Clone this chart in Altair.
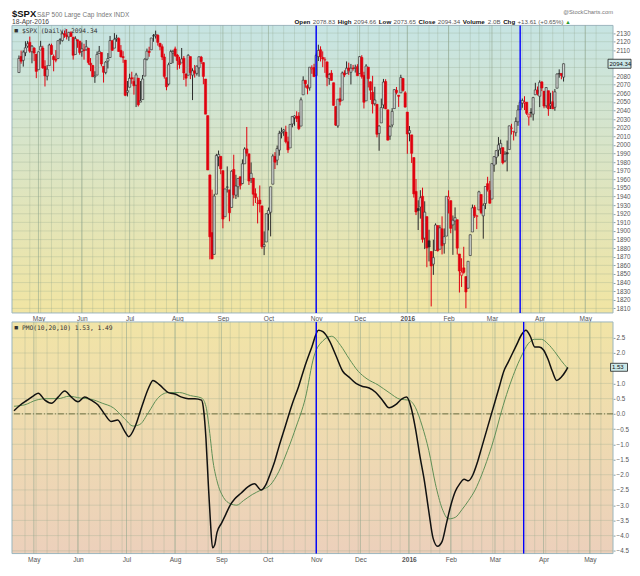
import json
import altair as alt
import pandas as pd

# ---------------- data ----------------
opens = [
    2084.11, 2102.82, 2098.27, 2107.21, 2114.76, 2119.29, 2108.35, 2112.49, 2105.52,
    2087.38, 2110.23, 2112.63, 2091.26, 2079.96, 2092.13, 2115.56, 2102.87, 2099.62, 2100.43,
    2122.07, 2121.30, 2129.45, 2127.79, 2125.55, 2130.36, 2125.34, 2105.13, 2122.27, 2120.66,
    2108.64, 2110.41, 2110.64, 2112.35, 2095.09, 2092.34, 2079.07, 2081.12, 2106.24, 2107.43, 2091.34,
    2084.26, 2097.40, 2101.58, 2121.06, 2112.50, 2123.16, 2123.65, 2109.96, 2102.62, 2098.63, 2061.19,
    2067.00, 2078.03, 2073.95, 2069.52, 2077.66, 2049.73, 2052.74, 2080.03, 2099.72, 2109.01, 2110.55,
    2126.80, 2126.85, 2127.55, 2118.21, 2114.16, 2102.24, 2078.19, 2070.75, 2094.70, 2106.78, 2111.60,
    2104.49, 2097.68, 2095.27, 2100.75, 2082.61, 2080.98, 2102.66, 2081.10, 2086.19, 2083.15, 2089.70,
    2101.99, 2095.69, 2076.61, 2034.08, 1965.15, 1898.08, 1872.75, 1942.77, 1986.06, 1986.73,
    1970.09, 1916.52, 1950.79, 1947.76, 1927.30, 1971.45, 1941.59, 1951.45, 1963.06, 1955.10, 1978.02,
    1995.33, 1989.66, 1960.84, 1961.39, 1943.24, 1932.24, 1935.93, 1929.18, 1881.90, 1887.14,
    1919.65, 1921.77, 1954.33, 1986.63, 1982.34, 1994.01, 2013.73, 2015.65, 2015.00, 2003.66, 1996.47,
    2024.37, 2031.73, 2033.13, 2033.47, 2021.88, 2058.19, 2075.08, 2068.75, 2066.48, 2088.35, 2090.00,
    2080.76, 2102.63, 2110.60, 2101.68, 2098.60, 2096.56, 2077.19, 2083.41, 2072.29, 2044.64,
    2022.08, 2053.67, 2051.99, 2083.70, 2082.82, 2089.41, 2084.42, 2089.30, 2088.82, 2090.95,
    2082.93, 2101.71, 2080.71, 2051.24, 2090.42, 2073.39, 2061.17, 2047.93, 2047.27, 2013.37, 2025.55,
    2046.50, 2073.76, 2040.81, 2010.27, 2023.15, 2042.20, 2063.52, 2057.77, 2060.54, 2077.34, 2060.59,
    2038.20, 2013.78, 2011.71, 1985.32, 1945.97, 1926.12, 1927.83, 1940.34, 1891.68, 1916.68,
    1888.66, 1876.18, 1861.46, 1877.40, 1906.28, 1878.79, 1902.52, 1885.22, 1894.00,
    1936.94, 1935.26, 1907.07, 1911.67, 1913.07, 1873.25, 1848.46, 1857.10, 1847.00, 1833.40,
    1871.44, 1898.80, 1927.57, 1916.74, 1924.44, 1942.38, 1917.56, 1931.87, 1954.95, 1947.13,
    1937.09, 1976.60, 1985.60, 1994.01, 1996.11, 1996.88, 1981.44, 1990.97, 1994.71, 2019.27, 2015.27,
    2014.24, 2026.90, 2041.16, 2048.55, 2048.64, 2049.64, 2032.48, 2037.89, 2035.75, 2058.27, 2063.77,
    2056.62, 2073.19, 2062.50, 2045.56, 2063.01, 2045.54, 2050.23, 2043.72, 2065.92, 2082.89, 2083.10, 2078.83,
]
highs = [
    2103.94, 2109.64, 2109.98, 2120.49, 2120.92, 2125.92, 2116.04, 2113.65, 2105.52,
    2108.41, 2120.95, 2115.24, 2098.42, 2092.90, 2117.66, 2117.69, 2105.06, 2110.19, 2121.45,
    2123.89, 2131.78, 2133.02, 2134.72, 2131.42, 2132.15, 2125.34, 2126.22, 2122.27, 2120.66,
    2119.15, 2117.59, 2121.92, 2112.89, 2100.99, 2093.01, 2085.62, 2108.50, 2115.02, 2107.43, 2091.34,
    2097.40, 2106.79, 2126.65, 2121.64, 2129.87, 2128.03, 2125.10, 2116.04, 2108.92, 2098.63, 2074.28,
    2082.78, 2085.06, 2078.61, 2083.74, 2077.66, 2074.28, 2081.31, 2100.67, 2111.98, 2114.14, 2124.42,
    2128.91, 2132.82, 2128.49, 2118.51, 2116.87, 2106.01, 2078.19, 2095.60, 2110.60, 2110.48, 2114.24,
    2105.70, 2102.51, 2112.66, 2103.32, 2082.61, 2105.35, 2102.66, 2089.06, 2092.93, 2092.45, 2102.87,
    2103.47, 2096.17, 2076.61, 2034.08, 1965.15, 1948.04, 1943.09, 1989.60, 1993.48, 1986.73,
    1970.09, 1948.91, 1975.01, 1947.76, 1970.42, 1988.63, 1965.29, 1961.05, 1963.06, 1983.19, 1997.26,
    2020.86, 1989.66, 1979.64, 1961.39, 1949.52, 1939.19, 1952.89, 1929.18, 1899.48, 1920.53,
    1927.21, 1951.36, 1989.17, 1991.62, 1999.31, 2016.50, 2020.13, 2018.66, 2022.34, 2009.56, 2024.15,
    2033.54, 2034.45, 2039.12, 2037.97, 2055.20, 2079.74, 2075.14, 2070.37, 2090.35, 2092.52, 2094.32,
    2106.20, 2116.48, 2114.59, 2108.78, 2101.91, 2096.56, 2083.67, 2086.94, 2072.29, 2044.64,
    2053.22, 2066.69, 2085.31, 2086.74, 2097.06, 2095.61, 2094.12, 2093.00, 2093.29, 2093.81,
    2103.37, 2104.27, 2085.00, 2093.84, 2090.42, 2073.85, 2080.33, 2067.65, 2047.27, 2022.92, 2053.87,
    2076.72, 2076.37, 2040.81, 2022.90, 2042.74, 2064.73, 2067.36, 2057.77, 2081.56, 2077.34, 2062.54,
    2038.20, 2021.94, 2011.71, 1985.32, 1960.40, 1935.65, 1947.38, 1950.33, 1934.47, 1916.68,
    1901.44, 1876.18, 1889.85, 1908.85, 1906.28, 1906.73, 1916.99, 1902.96, 1940.24,
    1947.20, 1935.26, 1918.01, 1927.35, 1913.07, 1873.25, 1868.25, 1881.60, 1847.00, 1864.78,
    1895.77, 1930.68, 1930.00, 1918.78, 1946.70, 1942.38, 1932.08, 1951.83, 1962.96, 1958.27,
    1978.35, 1986.51, 1993.69, 2009.13, 2006.12, 1996.88, 1992.69, 2005.08, 2022.37, 2024.57, 2015.94,
    2032.02, 2046.24, 2052.36, 2053.91, 2056.60, 2049.64, 2036.04, 2042.67, 2055.91, 2072.21, 2067.92,
    2075.07, 2074.02, 2062.50, 2067.33, 2063.01, 2060.63, 2062.93, 2065.05, 2083.18, 2087.84, 2083.22, 2094.66,
]
lows = [
    2084.11, 2094.38, 2091.05, 2103.19, 2112.89, 2107.04, 2094.89, 2097.41, 2077.59,
    2087.38, 2110.23, 2088.46, 2067.93, 2074.99, 2092.13, 2104.58, 2085.57, 2096.04, 2100.43,
    2116.81, 2120.01, 2124.50, 2122.59, 2120.88, 2126.06, 2099.18, 2105.13, 2112.86, 2104.89,
    2102.54, 2099.14, 2109.61, 2093.23, 2085.67, 2079.11, 2072.14, 2081.12, 2106.24, 2091.33, 2072.49,
    2082.10, 2088.86, 2101.58, 2109.45, 2112.50, 2119.89, 2108.58, 2101.78, 2095.38, 2056.64, 2056.32,
    2067.00, 2071.02, 2058.40, 2044.02, 2044.66, 2049.73, 2052.74, 2080.03, 2098.18, 2102.49, 2110.55,
    2119.88, 2123.66, 2115.40, 2110.00, 2098.63, 2077.09, 2063.52, 2069.09, 2094.08, 2094.97, 2102.07,
    2087.31, 2088.60, 2095.27, 2075.53, 2067.91, 2080.98, 2076.49, 2052.09, 2078.26, 2080.61, 2079.30,
    2094.14, 2070.53, 2035.73, 1970.89, 1867.01, 1867.08, 1872.75, 1942.77, 1975.19, 1965.98,
    1903.07, 1916.52, 1944.72, 1911.21, 1927.30, 1937.88, 1937.19, 1939.19, 1948.27, 1954.30, 1977.93,
    1986.73, 1953.45, 1955.80, 1929.22, 1932.57, 1908.77, 1921.50, 1879.21, 1871.91, 1887.14,
    1900.70, 1893.70, 1954.33, 1971.99, 1976.44, 1987.53, 2007.61, 2010.55, 2001.78, 1990.73, 1996.47,
    2020.46, 2022.31, 2026.61, 2017.22, 2021.88, 2058.19, 2066.53, 2058.84, 2063.11, 2082.63, 2079.34,
    2080.76, 2097.51, 2096.98, 2090.41, 2083.74, 2068.24, 2069.91, 2074.85, 2045.66, 2022.02,
    2019.94, 2045.90, 2051.99, 2078.76, 2082.82, 2081.39, 2070.29, 2086.30, 2084.13, 2080.41,
    2082.93, 2077.11, 2042.35, 2051.24, 2066.78, 2052.32, 2036.53, 2045.67, 2008.80, 1993.26, 2025.55,
    2042.43, 2041.66, 2005.33, 2005.93, 2020.49, 2042.20, 2058.73, 2044.20, 2060.54, 2061.97, 2043.62,
    1989.68, 2004.17, 1979.05, 1938.83, 1918.46, 1901.10, 1914.35, 1886.41, 1878.93, 1857.83,
    1864.60, 1812.29, 1848.98, 1877.40, 1875.97, 1878.79, 1872.70, 1873.65, 1894.00,
    1920.30, 1897.29, 1872.23, 1900.52, 1872.65, 1828.46, 1834.94, 1850.32, 1810.10, 1833.40,
    1871.44, 1898.80, 1915.09, 1902.17, 1924.44, 1919.44, 1891.00, 1925.41, 1945.78, 1931.81,
    1937.09, 1968.80, 1977.37, 1986.77, 1989.38, 1977.43, 1979.84, 1969.25, 1994.71, 2012.05, 2005.23,
    2010.04, 2022.16, 2041.16, 2043.14, 2040.57, 2034.86, 2022.49, 2031.96, 2028.31, 2058.27, 2057.46,
    2043.98, 2062.57, 2042.56, 2043.09, 2033.80, 2041.69, 2041.88, 2039.74, 2065.92, 2078.13, 2076.31, 2073.65,
]
closes = [
    2100.40, 2097.29, 2107.96, 2112.93, 2117.69, 2108.92, 2114.76, 2106.85, 2085.51,
    2108.29, 2114.49, 2089.46, 2080.15, 2088.00, 2116.10, 2105.33, 2099.12, 2098.48, 2121.10,
    2122.73, 2129.20, 2127.83, 2125.85, 2130.82, 2126.06, 2104.20, 2123.48, 2120.79, 2107.39,
    2111.73, 2109.60, 2114.07, 2095.84, 2092.83, 2079.28, 2080.15, 2105.20, 2108.86, 2094.11, 2084.43,
    2096.29, 2100.44, 2121.24, 2109.99, 2122.85, 2124.20, 2108.58, 2102.31, 2101.49, 2057.64, 2063.11,
    2077.42, 2076.78, 2068.76, 2081.34, 2046.68, 2051.31, 2076.62, 2099.60, 2108.95, 2107.40, 2124.29,
    2126.64, 2128.28, 2119.21, 2114.15, 2102.15, 2079.65, 2067.64, 2093.25, 2108.57, 2108.63, 2103.84,
    2098.04, 2093.32, 2099.84, 2083.56, 2077.57, 2104.18, 2084.07, 2086.05, 2083.39, 2091.54, 2102.44,
    2096.92, 2079.61, 2035.73, 1970.89, 1893.21, 1867.61, 1940.51, 1987.66, 1988.87, 1972.18,
    1913.85, 1948.86, 1951.13, 1921.22, 1969.41, 1942.04, 1952.29, 1961.05, 1953.03, 1978.09, 1995.31,
    1990.20, 1958.03, 1966.97, 1942.74, 1938.76, 1932.24, 1931.34, 1881.77, 1884.09, 1920.03,
    1923.82, 1951.36, 1987.05, 1979.92, 1995.83, 2013.43, 2014.89, 2017.46, 2003.69, 1994.24, 2023.86,
    2033.11, 2033.66, 2030.77, 2018.94, 2052.51, 2075.15, 2071.18, 2065.89, 2090.35, 2089.41, 2079.36,
    2104.05, 2109.79, 2102.31, 2099.93, 2099.20, 2078.58, 2081.72, 2075.00, 2045.97, 2023.04,
    2053.19, 2050.44, 2083.58, 2081.24, 2089.17, 2086.59, 2089.14, 2088.87, 2090.11, 2080.41,
    2102.63, 2079.51, 2049.62, 2091.69, 2077.07, 2063.59, 2047.62, 2052.23, 2012.37, 2021.94, 2043.41,
    2073.07, 2041.89, 2005.55, 2021.15, 2038.97, 2064.29, 2060.99, 2056.50, 2078.36, 2063.36, 2043.94,
    2012.66, 2016.71, 1990.26, 1943.09, 1922.03, 1923.67, 1938.68, 1890.28, 1921.84, 1880.33,
    1881.33, 1859.33, 1868.99, 1906.90, 1877.08, 1903.63, 1882.95, 1893.36, 1940.24,
    1939.38, 1903.03, 1912.53, 1915.45, 1880.05, 1853.44, 1852.21, 1851.86, 1829.08, 1864.78,
    1895.58, 1926.82, 1917.83, 1917.78, 1945.50, 1921.27, 1929.80, 1951.70, 1948.05, 1932.23,
    1978.35, 1986.45, 1993.40, 1999.99, 2001.76, 1979.26, 1989.26, 1989.57, 2022.19, 2019.64, 2015.93,
    2027.22, 2040.59, 2049.58, 2051.60, 2049.80, 2036.71, 2035.94, 2037.05, 2055.01, 2063.95, 2059.74,
    2072.78, 2066.13, 2045.17, 2066.66, 2041.91, 2047.60, 2041.99, 2061.72, 2082.42, 2082.78, 2080.73, 2094.34,
]
close_before_first = 2081.18

# PMO(10,20,10) line and its signal (trading-day index, value)
pmo_days = [0, 3, 6, 9, 11, 14, 17, 20, 23, 26, 29, 32, 35, 38, 41, 44, 47, 50, 52, 55, 58, 61,
            63, 66, 70, 73, 76, 79, 82, 85, 86, 87, 88, 89, 90, 91, 92, 94, 96, 98, 100, 103,
            106, 109, 112, 114, 116, 118, 120, 123, 126, 129, 132, 135, 138, 140, 143, 146,
            149, 152, 155, 158, 161, 164, 167, 170, 173, 176, 178, 180, 182, 184, 186, 188,
            190, 192, 194, 196, 198, 200, 202, 204, 206, 208, 210, 212, 214, 216, 218, 220,
            222, 224, 226, 228, 230, 232, 234, 236, 238, 240, 242, 244, 246, 248, 250, 251]
pmo_vals = [0.10, 0.30, 0.45, 0.60, 0.68, 0.45, 0.35, 0.55, 0.75, 0.55, 0.40, 0.55, 0.45, 0.30,
            0.00, -0.25, -0.20, -0.55, -0.75, -0.40, 0.25, 0.85, 1.10, 0.95, 0.70, 0.65, 0.55,
            0.50, 0.50, 0.45, 0.10, -0.80, -2.20, -3.50, -4.40, -4.30, -3.90, -3.60, -3.30,
            -3.00, -2.80, -2.60, -2.40, -2.30, -2.50, -2.35, -2.00, -1.60, -1.10, -0.40, 0.30,
            0.90, 1.60, 2.20, 2.75, 2.70, 2.40, 1.90, 1.40, 1.20, 1.00, 0.90, 0.85, 0.70, 0.45,
            0.20, 0.30, 0.50, 0.55, 0.20, -0.50, -1.40, -2.20, -3.20, -4.10, -4.35, -4.20,
            -3.60, -3.00, -2.55, -2.30, -2.15, -2.20, -2.00, -1.60, -1.10, -0.60, -0.10, 0.40,
            0.90, 1.40, 1.70, 2.00, 2.30, 2.60, 2.75, 2.55, 2.20, 2.20, 2.10, 1.80, 1.40, 1.10,
            1.20, 1.40, 1.53]
signal_days = [0, 5, 10, 15, 20, 25, 30, 35, 40, 45, 50, 54, 57, 61, 65, 70, 75, 80, 85, 87, 88,
               89, 90, 92, 95, 98, 101, 104, 108, 112, 116, 120, 124, 128, 132, 136, 140, 144,
               148, 152, 156, 160, 165, 170, 175, 179, 182, 185, 188, 191, 194, 197, 200, 203,
               206, 209, 212, 215, 218, 221, 224, 227, 230, 233, 236, 239, 242, 245, 248, 251]
signal_vals = [0.25, 0.30, 0.45, 0.50, 0.50, 0.58, 0.52, 0.48, 0.35, 0.20, -0.15, -0.40, -0.35,
               0.05, 0.50, 0.70, 0.70, 0.60, 0.52, 0.25, -0.20, -0.80, -1.45, -2.20, -2.75,
               -2.95, -3.00, -2.85, -2.65, -2.50, -2.35, -1.90, -1.20, -0.40, 0.50, 1.90, 2.40,
               2.55, 2.25, 1.80, 1.40, 1.15, 0.95, 0.70, 0.48, 0.45, 0.20, -0.40, -1.20, -2.30,
               -3.10, -3.45, -3.40, -3.15, -2.85, -2.50, -2.00, -1.40, -0.70, 0.10, 0.80, 1.40,
               1.90, 2.30, 2.45, 2.45, 2.30, 2.05, 1.75, 1.49]

marker_days = [137, 231]
price_ticks = list(range(1810, 2131, 10))
pmo_ticks = [-4.5, -4.0, -3.5, -3.0, -2.5, -2.0, -1.5, -1.0, -0.5, 0.0, 0.5, 1.0, 1.5, 2.0, 2.5]

header_pieces = [("Open", True), ("2078.83", False), ("High", True), ("2094.66", False),
                 ("Low", True), ("2073.65", False), ("Close", True), ("2094.34", False),
                 ("Volume", True), ("2.0B", False), ("Chg", True), ("+13.61 (+0.65%)", False)]

holidays = ["2015-05-25", "2015-07-03", "2015-09-07", "2015-11-26", "2015-12-25",
            "2016-01-01", "2016-01-18", "2016-02-15", "2016-03-25"]

assert len(opens) == len(highs) == len(lows) == len(closes) == 252

# ---------------- calendar ----------------
days = pd.bdate_range("2015-04-20", "2016-05-13").drop(pd.to_datetime(holidays))
month_idx, month_lab, week_idx = [], [], []
for k in range(1, len(days)):
    if days[k].month != days[k - 1].month:
        month_idx.append(k)
        month_lab.append("2016" if days[k].month == 1 else days[k].strftime("%b"))
    if days[k].isocalendar()[1] != days[k - 1].isocalendar()[1]:
        week_idx.append(k)
idx_year = month_idx[month_lab.index("2016")]
label_expr = "%s[indexof(%s, datum.value)]" % (json.dumps(month_lab), json.dumps(month_idx))

last_close = closes[-1]
last_pmo = pmo_vals[-1]
# axis labels that sit under the last-value boxes are hidden by them
price_labels = [v for v in price_ticks if abs(v - last_close) > 6]
pmo_labels = [v for v in pmo_ticks if abs(v - last_pmo) > 0.2]

# ---------------- layout ----------------
W, H1, H2 = 602, 288, 232
xs = alt.Scale(domain=[-0.9, 271.5], nice=False, zero=False)
ps = alt.Scale(domain=[1804.7, 2138.9], nice=False, zero=False)
ms = alt.Scale(domain=[-4.59, 3.02], nice=False, zero=False)
GRID = "#8ea48c"
RED, BLK = "#e0000e", "#2a2a2a"

XA = alt.Axis(values=month_idx, labelExpr=label_expr, grid=False, ticks=False,
              domain=False, labelFontSize=6.6, labelColor="#555", labelPadding=3,
              title=None, labelOverlap=False, labelFlush=False,
              labelFontWeight={"condition": {"test": "datum.value == %d" % idx_year,
                                             "value": "bold"}, "value": "normal"})


def yaxis(vals, fmt):
    return alt.Axis(orient="right", values=vals, grid=False, title=None, labelFontSize=6.3,
                    labelColor="#555", tickSize=2, tickColor="#88a0a8", domain=False,
                    labelPadding=1, labelFlush=False, labelOverlap=False, format=fmt)


YA1 = yaxis(price_labels, "d")
YA2 = yaxis(pmo_labels, ".1f")


def X(f="i"):
    return alt.X("%s:Q" % f, scale=xs, axis=XA)


def Y1(f):
    return alt.Y("%s:Q" % f, scale=ps, axis=YA1)


def Y2(f):
    return alt.Y("%s:Q" % f, scale=ms, axis=YA2)


def background(h, c0, c1):
    grad = {"gradient": "linear", "x1": 0, "y1": 0, "x2": 0, "y2": 1,
            "stops": [{"offset": 0, "color": c0}, {"offset": 1, "color": c1}]}
    return alt.Chart(pd.DataFrame({"z": [0]})).mark_rect(
        fill=grad, stroke="#9cb6be", strokeWidth=1).encode(
        x=alt.value(0), x2=alt.value(W), y=alt.value(0), y2=alt.value(h))


def vgrid():
    wk = alt.Chart(pd.DataFrame({"i": week_idx})).mark_rule(
        color=GRID, strokeWidth=1, opacity=0.28).encode(x=X())
    mo = alt.Chart(pd.DataFrame({"i": month_idx})).mark_rule(
        color=GRID, strokeWidth=1, opacity=0.55).encode(x=X())
    return [wk, mo]


def text(t, x, y, size=7, color="#333", weight="normal", align="left", font=None):
    kw = dict(text=t, fontSize=size, color=color, fontWeight=weight, align=align,
              baseline="alphabetic")
    if font:
        kw["font"] = font
    return alt.Chart(pd.DataFrame({"z": [0]})).mark_text(**kw).encode(
        x=alt.value(x), y=alt.value(y))


# approximate Arial / Liberation Sans advance widths (em) used to lay out the header line
EM = {"0": .556, "1": .556, "2": .556, "3": .556, "4": .556, "5": .556, "6": .556,
      "7": .556, "8": .556, "9": .556, ".": .278, " ": .278, "+": .584, "(": .333,
      ")": .333, "%": .889, "B": .667, "O": .778, "p": .611, "e": .556, "n": .611,
      "H": .722, "i": .278, "g": .611, "h": .611, "L": .611, "o": .611, "w": .778,
      "C": .722, "l": .278, "s": .556, "V": .667, "u": .611, "m": .889}


def tw(t, size):
    return sum(EM.get(ch, .6) for ch in t) * size


# ---------------- price panel ----------------
prev = [close_before_first] + closes[:-1]
rows = []
for k in range(len(closes)):
    up = closes[k] >= prev[k]
    col = BLK if up else RED
    hollow = closes[k] >= opens[k]
    fill = ("#cfd3d0" if up else "#f3b0b0") if hollow else col
    rows.append(dict(i=k, o=opens[k], h=highs[k], l=lows[k], c=closes[k], col=col, fill=fill))
cdf = pd.DataFrame(rows)

wick = alt.Chart(cdf).mark_rule(strokeWidth=1).encode(
    x=X(), y=Y1("l"), y2="h:Q", color=alt.Color("col:N", scale=None))
body = alt.Chart(cdf).mark_bar(size=2.2, strokeWidth=0.6).encode(
    x=X(), y=Y1("o"), y2="c:Q",
    fill=alt.Fill("fill:N", scale=None), stroke=alt.Stroke("col:N", scale=None))
hg1 = alt.Chart(pd.DataFrame({"p": price_ticks})).mark_rule(
    color=GRID, strokeWidth=1, opacity=0.28).encode(y=Y1("p"))
blue1 = alt.Chart(pd.DataFrame({"i": marker_days})).mark_rule(
    color="#0000ff", strokeWidth=1.4).encode(x=X())
pbox = alt.Chart(pd.DataFrame({"p": [last_close]})).mark_tick(
    orient="horizontal", size=23, thickness=9, color="#cbe8e8", stroke="#222",
    strokeWidth=0.8, opacity=1).encode(x=alt.value(W + 6.5), y=Y1("p"))
ptxt = alt.Chart(pd.DataFrame({"p": [last_close]})).mark_text(
    text="%.2f" % last_close, fontSize=6, color="#111", align="left",
    baseline="middle").encode(x=alt.value(W - 3.5), y=Y1("p"))

hdr = [
    text("$SPX", 0, -8.5, size=9.5, color="#111", weight="bold"),
    text("S&P 500 Large Cap Index INDX", 25, -8.5, size=6.5, color="#777"),
    text("@StockCharts.com", W, -11, size=5.8, color="#777", align="right"),
    text("18-Apr-2016", 0, -1.5, size=6.7, color="#444"),
    text("■", 2, 8, size=7, color="#333"),
    text("$SPX (Daily) 2094.34", 10, 8, size=6.3, color="#333", font="DejaVu Sans Mono"),
]
HS = 6.2
xpos = 283.0
for t, b in header_pieces:
    hdr.append(text(t, xpos, -1.5, size=HS, color="#111" if b else "#555",
                    weight="bold" if b else "normal"))
    xpos += tw(t, HS) * (1.04 if b else 1.0) + (1.8 if b else 2.6)
hdr.append(text("▲", xpos - 1, -1.5, size=5.5, color="#2a9a2a"))

top = alt.layer(background(H1, "#c6e4e3", "#f1e5a3"), *vgrid(), hg1, wick, body, blue1,
                pbox, ptxt, *hdr).properties(width=W, height=H1)

# ---------------- PMO panel ----------------
hg2 = alt.Chart(pd.DataFrame({"p": pmo_ticks})).mark_rule(
    color=GRID, strokeWidth=1, opacity=0.28).encode(y=Y2("p"))
zero = alt.Chart(pd.DataFrame({"p": [0.0]})).mark_rule(
    color="#6e6e40", strokeWidth=1, strokeDash=[6, 2, 1, 2]).encode(y=Y2("p"))
sig = alt.Chart(pd.DataFrame({"i": signal_days, "v": signal_vals})).mark_line(
    color="#5f8f55", strokeWidth=1, interpolate="monotone").encode(x=X(), y=Y2("v"))
pmo = alt.Chart(pd.DataFrame({"i": pmo_days, "v": pmo_vals})).mark_line(
    color="#111", strokeWidth=1.5, interpolate="monotone").encode(x=X(), y=Y2("v"))
blue2 = alt.Chart(pd.DataFrame({"i": marker_days})).mark_rule(
    color="#0000ff", strokeWidth=1.4).encode(x=X())
mbox = alt.Chart(pd.DataFrame({"p": [last_pmo]})).mark_tick(
    orient="horizontal", size=17, thickness=8, color="#cbe8e8", stroke="#222",
    strokeWidth=0.8, opacity=1).encode(x=alt.value(W + 6), y=Y2("p"))
mtxt = alt.Chart(pd.DataFrame({"p": [last_pmo]})).mark_text(
    text="%.2f" % last_pmo, fontSize=6, color="#111", align="left",
    baseline="middle").encode(x=alt.value(W - 1), y=Y2("p"))
plab = [
    text("■", 2, 8, size=7, color="#333"),
    text("PMO(10,20,10) %.2f, %.2f" % (pmo_vals[-1], signal_vals[-1]), 10, 8, size=6.3,
         color="#333", font="DejaVu Sans Mono"),
]
bot = alt.layer(background(H2, "#f1e4a6", "#ecd0bb"), *vgrid(), hg2, zero, sig, pmo, blue2,
                mbox, mtxt, *plab).properties(width=W, height=H2)

chart = alt.vconcat(top, bot, spacing=9, bounds="flush").properties(
    padding={"left": 2, "top": 0, "right": 0, "bottom": 0}
).configure(font="Liberation Sans").configure_view(strokeWidth=0)

chart.save("out.html", embed_options={"renderer": "svg", "actions": False})
